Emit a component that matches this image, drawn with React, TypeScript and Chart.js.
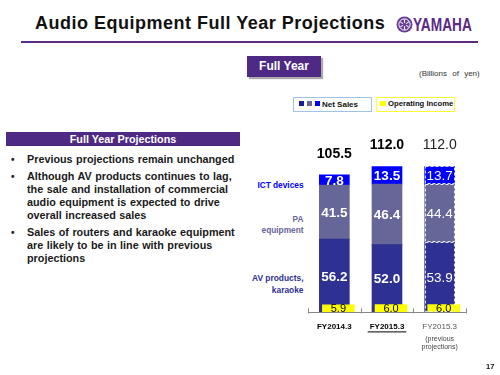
import React, { useEffect, useRef } from 'react';
import { Chart, registerables } from 'chart.js';

Chart.register(...registerables);

// ---- data ----
const categories = ['FY2014.3', 'FY2015.3', 'FY2015.3'];
const categoryNotes = [[], [], ['(previous', 'projections)']];
const avProductsKaraoke = [56.2, 52.0, 53.9];
const paEquipment = [41.5, 46.4, 44.4];
const ictDevices = [7.8, 13.5, 13.7];
const operatingIncome = [5.9, 6.0, 6.0];
const netSalesTotals = [105.5, 112.0, 112.0];
const yMax = 140;
const previousProjectionIndex = 2;
const underlinedIndex = 1;

const bullets = [
  ['Previous projections remain unchanged'],
  [
    'Although AV products continues to lag,',
    'the sale and installation  of commercial',
    'audio equipment is expected to drive',
    'overall increased sales',
  ],
  [
    'Sales of routers and karaoke equipment',
    'are likely to be in line with  previous',
    'projections',
  ],
];

const FONT = 'Arial, "Liberation Sans", Helvetica, sans-serif';
const PURPLE = '#4e2a84';
const AV_COLOR = '#2e3192';
const PA_COLOR = '#666699';
const ICT_COLOR = '#0000ff';
const OI_COLOR = '#ffff00';
const SHIFT = 0.077;

const slidePlugin = {
  id: 'slideLabels',
  afterDatasetsDraw(chart: any) {
    const { ctx, chartArea, scales } = chart;
    const xs = scales.x;
    ctx.save();

    // small inside tick marks at category boundaries
    ctx.strokeStyle = '#888';
    ctx.lineWidth = 1;
    for (let i = 0; i <= categories.length; i++) {
      const px = Math.round(xs.getPixelForValue(i - 0.5)) + 0.5;
      ctx.beginPath();
      ctx.moveTo(px, chartArea.bottom - 4);
      ctx.lineTo(px, chartArea.bottom + 1);
      ctx.stroke();
    }

    const series = [avProductsKaraoke, paEquipment, ictDevices];
    // dashed outline on previous-projection bar
    for (let k = 0; k < 3; k++) {
      const el = chart.getDatasetMeta(k + 1).data[previousProjectionIndex];
      const { x, y, base, width } = el.getProps(['x', 'y', 'base', 'width'], true);
      ctx.setLineDash([3, 2]);
      ctx.strokeStyle = 'rgba(255,255,255,0.85)';
      ctx.lineWidth = 1;
      ctx.strokeRect(Math.round(x - width / 2) + 0.5, Math.round(y) + 0.5, Math.round(width) - 1, Math.round(base - y) - 1);
    }
    ctx.setLineDash([]);

    // segment values
    ctx.textAlign = 'center';
    ctx.textBaseline = 'middle';
    for (let k = 0; k < 3; k++) {
      const meta = chart.getDatasetMeta(k + 1);
      meta.data.forEach((el: any, j: number) => {
        const { x, y, base } = el.getProps(['x', 'y', 'base'], true);
        const weight = j === previousProjectionIndex ? 'normal' : 'bold';
        ctx.font = `${weight} 13.5px ${FONT}`;
        ctx.fillStyle = '#ffffff';
        ctx.fillText(series[k][j].toFixed(1), x, (y + base) / 2 + 1);
      });
    }

    // totals
    const topMeta = chart.getDatasetMeta(3);
    topMeta.data.forEach((el: any, j: number) => {
      const { x, y } = el.getProps(['x', 'y'], true);
      const weight = j === previousProjectionIndex ? 'normal' : 'bold';
      ctx.font = `${weight} 14px ${FONT}`;
      ctx.fillStyle = j === previousProjectionIndex ? '#222' : '#000';
      ctx.fillText(netSalesTotals[j].toFixed(1), x, y - 21);
    });

    // operating income values
    const oiMeta = chart.getDatasetMeta(0);
    oiMeta.data.forEach((el: any, j: number) => {
      const { x, y, base } = el.getProps(['x', 'y', 'base'], true);
      ctx.font = `normal 11px ${FONT}`;
      ctx.fillStyle = '#000';
      ctx.fillText(operatingIncome[j].toFixed(1), x, (y + base) / 2 + 0.5);
    });

    ctx.restore();
  },
  afterDraw(chart: any) {
    const { ctx, chartArea, scales } = chart;
    const xs = scales.x;
    ctx.save();
    // underline for current year label
    const ux = xs.getPixelForTick(underlinedIndex);
    ctx.font = `bold 8px ${FONT}`;
    const w = ctx.measureText(categories[underlinedIndex]).width + 4;
    ctx.strokeStyle = '#000';
    ctx.lineWidth = 1;
    ctx.beginPath();
    ctx.moveTo(ux - w / 2, chartArea.bottom + 19.5);
    ctx.lineTo(ux + w / 2, chartArea.bottom + 19.5);
    ctx.stroke();
    // notes under labels
    ctx.font = `normal 7px ${FONT}`;
    ctx.fillStyle = '#444';
    ctx.textAlign = 'center';
    ctx.textBaseline = 'middle';
    categoryNotes.forEach((lines, i) => {
      const px = xs.getPixelForTick(i);
      lines.forEach((line, li) => {
        ctx.fillText(line, px, chartArea.bottom + 27 + li * 7.5);
      });
    });
    ctx.restore();
  },
};

const abs = (s: React.CSSProperties): React.CSSProperties => ({
  position: 'absolute',
  fontFamily: FONT,
  whiteSpace: 'nowrap',
  margin: 0,
  ...s,
});

export default function App() {
  const ref = useRef<HTMLCanvasElement>(null);

  useEffect(() => {
    document.body.style.margin = '0';
    const chart = new Chart(ref.current as HTMLCanvasElement, {
      type: 'bar',
      data: {
        labels: categories,
        datasets: [
          {
            label: 'Operating Income',
            data: operatingIncome.map((v, i) => ({ x: i, y: v })) as any,
            backgroundColor: OI_COLOR,
            xAxisID: 'x2',
            stack: 'oi',
            grouped: false,
            barThickness: 32,
            order: 0,
          },
          {
            label: 'AV products, karaoke',
            data: avProductsKaraoke,
            backgroundColor: AV_COLOR,
            stack: 'sales',
            grouped: false,
            barThickness: 30,
            order: 1,
          },
          {
            label: 'PA equipment',
            data: paEquipment,
            backgroundColor: PA_COLOR,
            stack: 'sales',
            grouped: false,
            barThickness: 30,
            order: 1,
          },
          {
            label: 'ICT devices',
            data: ictDevices,
            backgroundColor: ICT_COLOR,
            stack: 'sales',
            grouped: false,
            barThickness: 30,
            order: 1,
          },
        ],
      },
      options: {
        responsive: false,
        animation: false,
        devicePixelRatio: 1,
        layout: { padding: { left: 28, right: 24, top: 10, bottom: 28 } },
        plugins: { legend: { display: false }, tooltip: { enabled: false } },
        scales: {
          x: {
            stacked: true,
            offset: true,
            grid: { display: true, drawOnChartArea: false, drawTicks: false, offset: true },
            border: { display: true, color: '#888', width: 1, z: 1 },
            ticks: {
              padding: 10,
              autoSkip: false,
              maxRotation: 0,
              color: (c: any) => (c.index === previousProjectionIndex ? '#555' : '#000'),
              font: (c: any) => ({
                family: FONT,
                size: 8,
                weight: c.index === previousProjectionIndex ? 'normal' : 'bold',
              }),
            },
          },
          x2: {
            type: 'linear',
            display: false,
            bounds: 'data',
            offset: false,
            min: -0.5 - SHIFT,
            max: categories.length - 0.5 - SHIFT,
          },
          y: {
            stacked: true,
            display: false,
            min: 0,
            max: yMax,
          },
        },
      } as any,
      plugins: [slidePlugin],
    });
    return () => chart.destroy();
  }, []);

  const lineH = 13.3;
  const bulletTops = [153.4, 169.5, 225.5];

  return (
    <div style={{ position: 'fixed', left: 0, top: 0, width: 500, height: 375, background: '#fff', overflow: 'hidden' }}>
      {/* title */}
      <div style={abs({ left: 35, top: 13, fontSize: 18, lineHeight: '20px', fontWeight: 'bold', color: '#111', letterSpacing: '0.5px' })}>
        Audio Equipment Full Year Projections
      </div>
      <svg style={{ position: 'absolute', left: 396, top: 16 }} width={17} height={17} viewBox="0 0 17 17">
        <circle cx={8.5} cy={8.5} r={8} fill="#6a3d96" />
        <circle cx={8.5} cy={8.5} r={5.6} fill="none" stroke="#fff" strokeWidth={1} />
        <g stroke="#fff" strokeWidth={1}>
          <line x1={8.5} y1={3.5} x2={8.5} y2={13.5} />
          <line x1={4.2} y1={6} x2={12.8} y2={11} />
          <line x1={4.2} y1={11} x2={12.8} y2={6} />
        </g>
        <circle cx={8.5} cy={8.5} r={1.8} fill="#6a3d96" />
      </svg>
      <div style={abs({ left: 413, top: 15, fontSize: 18, lineHeight: '20px', fontWeight: 'bold', color: '#5b2a86', transform: 'scaleX(0.76)', transformOrigin: 'left center' })}>
        YAMAHA
      </div>
      <div style={abs({ left: 21, top: 41, width: 457, height: 2, background: '#5b2c86' })} />

      {/* Full Year box */}
      <div style={abs({ left: 247, top: 56, width: 74, height: 21, background: PURPLE, color: '#fff', fontSize: 12, fontWeight: 'bold', lineHeight: '21px', textAlign: 'center', boxShadow: '2px 2px 1px #aaa' })}>
        Full Year
      </div>
      <div style={abs({ left: 419, top: 69, fontSize: 8, lineHeight: '10px', color: '#333', wordSpacing: '3px' })}>
        (Billions of yen)
      </div>

      {/* legend */}
      <div style={abs({ left: 293, top: 97, width: 79, height: 15, border: '1px solid #9dc3e6', boxSizing: 'border-box' })} />
      <div style={abs({ left: 299, top: 101, width: 5, height: 5, background: '#1a1a99' })} />
      <div style={abs({ left: 307, top: 101, width: 5, height: 5, background: PA_COLOR })} />
      <div style={abs({ left: 315, top: 101, width: 5, height: 5, background: ICT_COLOR })} />
      <div style={abs({ left: 322, top: 99.5, fontSize: 8, lineHeight: '10px', fontWeight: 'bold', color: '#111' })}>Net Sales</div>
      <div style={abs({ left: 376, top: 97, width: 79, height: 15, border: '1.5px solid #ffff33', boxSizing: 'border-box' })} />
      <div style={abs({ left: 380, top: 101, width: 6, height: 5, background: OI_COLOR })} />
      <div style={abs({ left: 388, top: 98.5, fontSize: 7.7, lineHeight: '10px', fontWeight: 'bold', color: '#111' })}>Operating Income</div>

      {/* left panel */}
      <div style={abs({ left: 6, top: 132, width: 234, height: 14, background: PURPLE, color: '#fff', fontSize: 10.8, fontWeight: 'bold', textAlign: 'center', lineHeight: '14px' })}>
        Full Year Projections
      </div>
      {bullets.map((lines, bi) => (
        <div key={bi}>
          <div style={abs({ left: 11, top: bulletTops[bi], fontSize: 10, lineHeight: `${lineH}px`, fontWeight: 'bold', color: '#222' })}>•</div>
          {lines.map((line, li) => (
            <div
              key={li}
              style={abs({ left: 27, top: bulletTops[bi] + li * lineH, fontSize: 10.8, lineHeight: `${lineH}px`, fontWeight: 'bold', color: '#1a1a1a', wordSpacing: '0.5px' })}
            >
              {line}
            </div>
          ))}
        </div>
      ))}

      {/* segment names */}
      <div style={abs({ right: 196.5, top: 179.5, fontSize: 8.3, lineHeight: '10px', fontWeight: 'bold', color: ICT_COLOR, textAlign: 'right' })}>ICT devices</div>
      <div style={abs({ right: 196.5, top: 214, fontSize: 8.3, lineHeight: '10px', fontWeight: 'bold', color: PA_COLOR, textAlign: 'right' })}>PA</div>
      <div style={abs({ right: 196.5, top: 225, fontSize: 8.3, lineHeight: '10px', fontWeight: 'bold', color: PA_COLOR, textAlign: 'right' })}>equipment</div>
      <div style={abs({ right: 196.5, top: 273, fontSize: 8.4, lineHeight: '10px', fontWeight: 'bold', color: AV_COLOR, textAlign: 'right' })}>AV products,</div>
      <div style={abs({ right: 196.5, top: 284.5, fontSize: 8.4, lineHeight: '10px', fontWeight: 'bold', color: AV_COLOR, textAlign: 'right' })}>karaoke</div>

      {/* chart */}
      <canvas ref={ref} width={210} height={250} style={{ position: 'absolute', left: 280, top: 120, width: 210, height: 250 }} />

      <div style={abs({ left: 486, top: 362, fontSize: 7.5, lineHeight: '10px', fontWeight: 'bold', color: '#111' })}>17</div>
    </div>
  );
}
